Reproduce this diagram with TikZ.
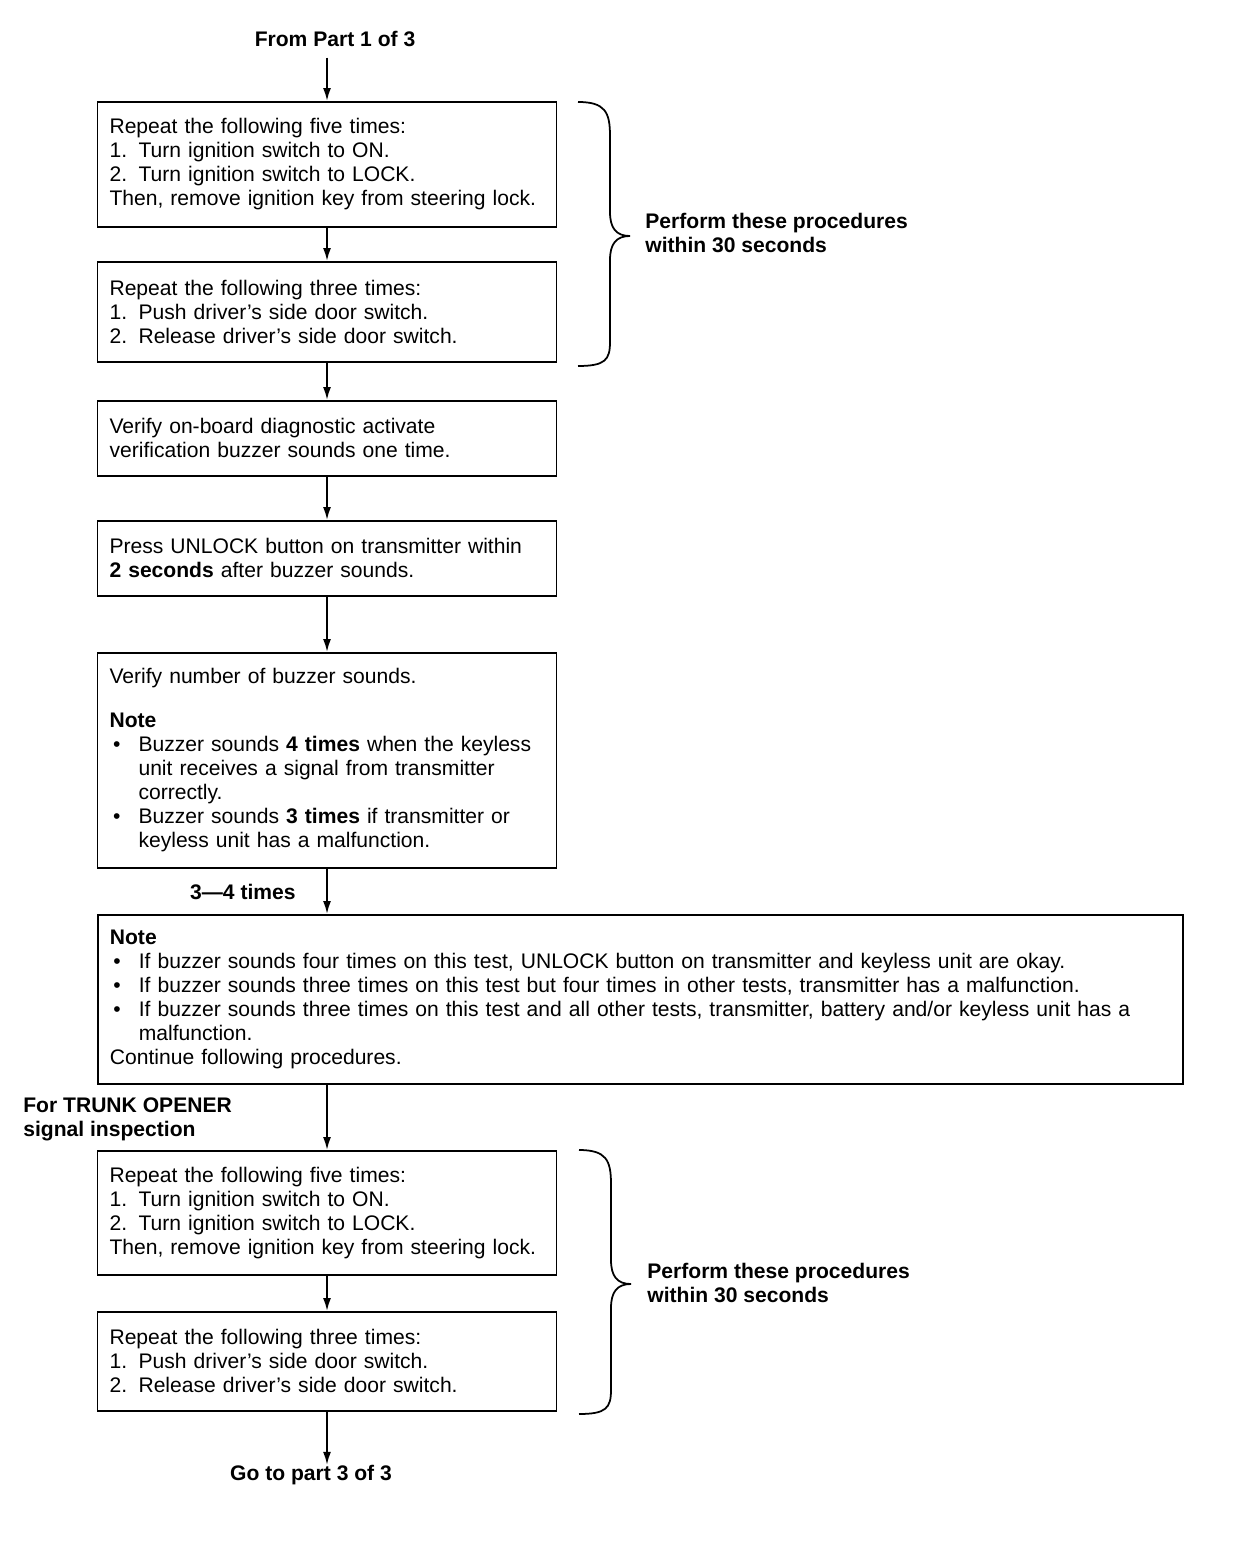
\documentclass[tikz,border=0pt]{standalone}
\usepackage{fontspec}
\setmainfont{Liberation Sans}
\usetikzlibrary{arrows.meta}
\newcommand{\mainsize}{\fontsize{12}{13.7}\selectfont}
\newcommand{\stepno}[1]{\makebox[16.5pt][l]{#1}}
\newcommand{\blt}{\makebox[16.5pt][l]{\hspace{2pt}•}}
\newcommand{\cont}{\hspace*{16.5pt}}
\tikzset{
  flow/.style={line width=1pt,-{Latex[length=2.6mm,width=1.6mm]}},
  stepbox/.style={draw,line width=1pt,anchor=north,align=left,text width=8.7cm,
    inner xsep=0.24cm,inner ysep=0pt,font=\mainsize},
  widebox/.style={stepbox,anchor=north west,text width=21.22cm},
  tag/.style={font=\mainsize\bfseries,align=left,inner sep=0pt},
  procbrace/.pic={
    \draw[line width=1pt] (-52,-134) .. controls (-25,-134) and (-20,-124) .. (-20,-100)
      -- (-20,-24) .. controls (-20,-8) and (-14,0) .. (0,0)
      .. controls (-14,0) and (-20,8) .. (-20,24)
      -- (-20,106) .. controls (-20,124) and (-25,130) .. (-52,130);
  }
}
\begin{document}
\begin{tikzpicture}[x=0.02cm,y=-0.02cm]
  \useasboundingbox (0,0) rectangle (1248,1544);
  % part 2: buzzer check for UNLOCK
  \node[tag] (from) at (335,39) {From Part 1 of 3};
  \node[stepbox,minimum height=2.5cm] (b1) at (327,101)
    {Repeat the following five times:\\
     \stepno{1.}Turn ignition switch to ON.\\
     \stepno{2.}Turn ignition switch to LOCK.\\
     Then, remove ignition key from steering lock.};
  \node[stepbox,minimum height=2cm] (b2) at (327,261)
    {Repeat the following three times:\\
     \stepno{1.}Push driver's side door switch.\\
     \stepno{2.}Release driver's side door switch.};
  \node[stepbox,minimum height=1.5cm] (b3) at (327,400)
    {Verify on-board diagnostic activate\\
     verification buzzer sounds one time.};
  \node[stepbox,minimum height=1.5cm] (b4) at (327,520)
    {Press UNLOCK button on transmitter within\\
     \textbf{2 seconds} after buzzer sounds.};
  \node[stepbox,minimum height=4.3cm] (b5) at (327,652)
    {Verify number of buzzer sounds.\\[11pt]
     \textbf{Note}\\
     \blt Buzzer sounds \textbf{4 times} when the keyless\\
     \cont unit receives a signal from transmitter\\
     \cont correctly.\\
     \blt Buzzer sounds \textbf{3 times} if transmitter or\\
     \cont keyless unit has a malfunction.};
  \node[widebox,minimum height=3.38cm] (b6) at (97,914)
    {\textbf{Note}\\
     \blt If buzzer sounds four times on this test, UNLOCK button on transmitter and keyless unit are okay.\\
     \blt If buzzer sounds three times on this test but four times in other tests, transmitter has a malfunction.\\
     \blt If buzzer sounds three times on this test and all other tests, transmitter, battery and/or keyless unit has a\\
     \cont malfunction.\\
     Continue following procedures.};
  % trunk opener
  \node[stepbox,minimum height=2.48cm] (b7) at (327,1150)
    {Repeat the following five times:\\
     \stepno{1.}Turn ignition switch to ON.\\
     \stepno{2.}Turn ignition switch to LOCK.\\
     Then, remove ignition key from steering lock.};
  \node[stepbox,minimum height=1.98cm] (b8) at (327,1311)
    {Repeat the following three times:\\
     \stepno{1.}Push driver's side door switch.\\
     \stepno{2.}Release driver's side door switch.};
  \node[tag] (goto) at (311,1475) {Go to part 3 of 3};
  \node[tag,anchor=east] (times) at (296,892) {3—4 times};
  \node[tag,anchor=west] (trunk) at (23,1119) {For TRUNK OPENER\\signal inspection};
  \node[tag,anchor=west] (within1) at (645,233) {Perform these procedures\\within 30 seconds};
  \node[tag,anchor=west] (within2) at (647,1283) {Perform these procedures\\within 30 seconds};
  \pic at (630,236) {procbrace};
  \pic at (631,1284) {procbrace};
  % connectors
  \draw[flow] ([yshift=-6]from.south -| b1.north) -- (b1.north);
  \draw[flow] (b1.south) -- (b2.north);
  \draw[flow] (b2.south) -- (b3.north);
  \draw[flow] (b3.south) -- (b4.north);
  \draw[flow] (b4.south) -- (b5.north);
  \draw[flow] (b5.south) -- (b5.south |- b6.north);
  \draw[flow] (b6.south -| b7.north) -- (b7.north);
  \draw[flow] (b7.south) -- (b8.north);
  \draw[flow] (b8.south) -- (b8.south |- goto.north);
\end{tikzpicture}
\end{document}
